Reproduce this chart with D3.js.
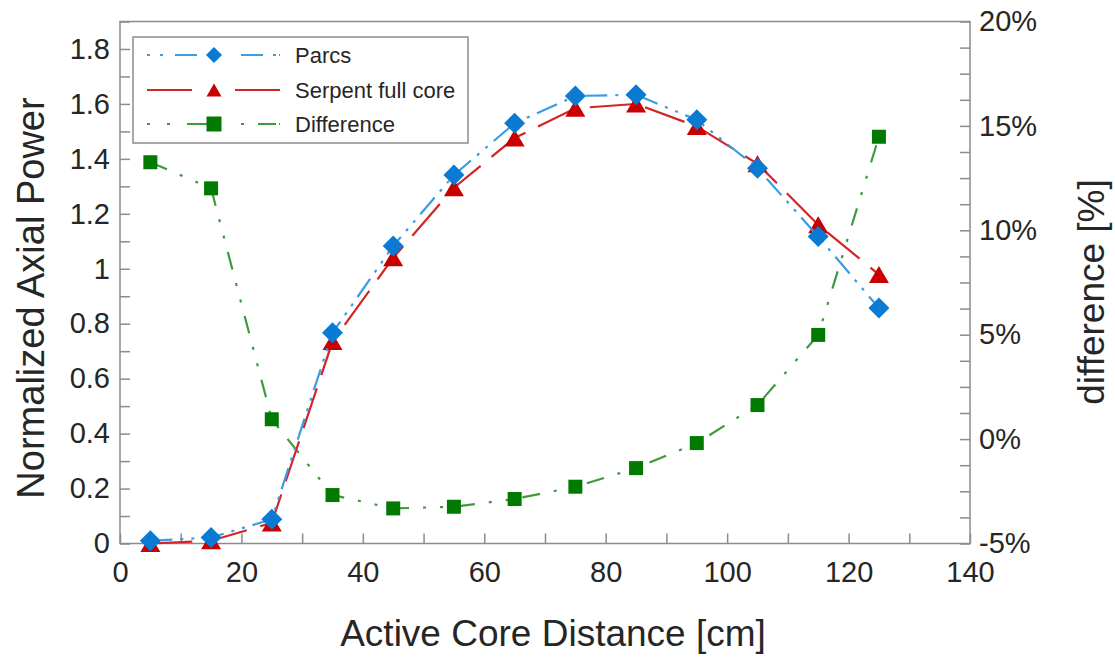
<!DOCTYPE html>
<html>
<head>
<meta charset="utf-8">
<script src="https://cdn.jsdelivr.net/npm/d3@7"></script>
<style>
  body { margin: 0; background: #fff; }
  svg { display: block; font-family: "Liberation Sans", Arial, sans-serif; }
</style>
</head>
<body>
<svg id="chart"></svg>
<script>
	// axial positions of the nodes [cm]
	var positions = [5, 15, 25, 35, 45, 55, 65, 75, 85, 95, 105, 115, 125];

	// normalized axial power
	var parcs = [0.010, 0.022, 0.088, 0.767, 1.083, 1.341, 1.530, 1.629, 1.633, 1.542, 1.366, 1.117, 0.857];
	var serpent = [0.0, 0.01, 0.075, 0.735, 1.04, 1.295, 1.476, 1.584, 1.600, 1.518, 1.382, 1.160, 0.979];

	// relative difference [%]
	var difference = [13.26, 12.01, 0.95, -2.68, -3.32, -3.24, -2.87, -2.28, -1.39, -0.19, 1.63, 4.99, 14.48];

	var seriesNames = ["Parcs", "Serpent full core", "Difference"];

	var width = 1115,
		height = 657;

	var margin = {left: 120, right: 145, top: 21.5, bottom: 113.5};

	var x = d3.scaleLinear().domain([0, 140]).range([margin.left, width - margin.right]);
	var yLeft = d3.scaleLinear().domain([0, 1.9]).range([height - margin.bottom, margin.top]);
	var yRight = d3.scaleLinear().domain([-5, 20]).range([height - margin.bottom, margin.top]);

	var frameColor = "#8c8c8c",
		textColor = "#262626";

	var svg = d3.select("#chart")
		.attr("width", width)
		.attr("height", height);

	// marker shapes, centred on their bounding box
	var diamond = function(r) { return "M0," + (-r) + "L" + r + ",0L0," + r + "L" + (-r) + ",0Z"; };
	var triangle = function(w, h) { return "M0," + (-h/2) + "L" + (w/2) + "," + (h/2) + "L" + (-w/2) + "," + (h/2) + "Z"; };
	var square = function(s) { return "M" + (-s/2) + "," + (-s/2) + "h" + s + "v" + s + "h" + (-s) + "Z"; };

	var styles = [
		{line: "#3a9de4", marker: "#0a7ad3", dash: "22,8,3,8,3,8", legendDash: "3,10,3,12,22,44,22,10,3", shape: diamond(10.5), legendShape: diamond(8)},
		{line: "#d42424", marker: "#c80000", dash: "42,14", legendDash: "45,43,45", shape: triangle(20, 17), legendShape: triangle(15, 13)},
		{line: "#3c9c3c", marker: "#007a00", dash: "18,14,3,14,3,14", legendDash: "3,17,3,17,20,34,3,14,18", shape: square(14), legendShape: square(15)}
	];

	// axes, ticks pointing inward
	var xAxis = d3.axisBottom(x)
		.tickValues(d3.range(0, 15).map(function(i) { return i * 10; }))
		.tickFormat(function(d, i) { return i % 2 === 0 ? d : ""; })
		.tickSize(-10)
		.tickPadding(18);

	var leftAxis = d3.axisLeft(yLeft)
		.tickValues(d3.range(0, 20).map(function(i) { return i / 10; }))
		.tickFormat(function(d, i) { return i % 2 === 0 ? String(+d.toFixed(1)) : ""; })
		.tickSize(-10)
		.tickPadding(10);

	var rightAxis = d3.axisRight(yRight)
		.tickValues(d3.range(0, 21).map(function(i) { return -5 + i * 1.25; }))
		.tickFormat(function(d, i) { return i % 4 === 0 ? d + "%" : ""; })
		.tickSize(-10)
		.tickPadding(9);

	var styleAxis = function(g) {
		g.select(".domain").remove();
		g.selectAll(".tick line").attr("stroke", frameColor).attr("stroke-width", 1.5);
		g.selectAll(".tick text").attr("fill", textColor).style("font-size", "29px");
	};

	svg.append("g")
		.attr("transform", "translate(0," + yLeft.range()[0] + ")")
		.call(xAxis)
		.call(styleAxis);

	svg.append("g")
		.attr("transform", "translate(" + x.range()[0] + ",0)")
		.call(leftAxis)
		.call(styleAxis);

	svg.append("g")
		.attr("transform", "translate(" + x.range()[1] + ",0)")
		.call(rightAxis)
		.call(styleAxis);

	svg.append("rect")
		.attr("x", x.range()[0])
		.attr("y", yLeft.range()[1])
		.attr("width", x.range()[1] - x.range()[0])
		.attr("height", yLeft.range()[0] - yLeft.range()[1])
		.attr("fill", "none")
		.attr("stroke", frameColor)
		.attr("stroke-width", 1.5);

	// axis titles
	svg.append("text")
		.attr("x", 553)
		.attr("y", 646)
		.attr("text-anchor", "middle")
		.attr("fill", textColor)
		.style("font-size", "37px")
		.text("Active Core Distance [cm]");

	svg.append("text")
		.attr("transform", "translate(44,298) rotate(-90)")
		.attr("text-anchor", "middle")
		.attr("fill", textColor)
		.style("font-size", "38px")
		.text("Normalized Axial Power");

	svg.append("text")
		.attr("transform", "translate(1104,292) rotate(-90)")
		.attr("text-anchor", "middle")
		.attr("fill", textColor)
		.style("font-size", "37px")
		.text("difference [%]");

	// series
	var series = [
		{values: parcs, y: yLeft, style: styles[0]},
		{values: serpent, y: yLeft, style: styles[1]},
		{values: difference, y: yRight, style: styles[2]}
	];

	var plot = svg.append("g");

	// draw difference first, parcs last (on top)
	[2, 1, 0].forEach(function(k) {
		var s = series[k];
		var pts = positions.map(function(p, i) { return [p, s.values[i]]; });
		var line = d3.line()
			.x(function(d) { return x(d[0]); })
			.y(function(d) { return s.y(d[1]); });

		plot.append("path")
			.datum(pts)
			.attr("d", line)
			.attr("fill", "none")
			.attr("stroke", s.style.line)
			.attr("stroke-width", 2.2)
			.attr("stroke-dasharray", s.style.dash);

		plot.selectAll(".marker" + k)
			.data(pts)
			.enter()
			.append("path")
			.attr("class", "marker" + k)
			.attr("d", s.style.shape)
			.attr("transform", function(d) { return "translate(" + x(d[0]) + "," + s.y(d[1]) + ")"; })
			.attr("fill", s.style.marker);
	});

	// legend
	var legend = svg.append("g");

	legend.append("rect")
		.attr("x", 133)
		.attr("y", 37)
		.attr("width", 335)
		.attr("height", 106)
		.attr("fill", "#fff")
		.attr("stroke", frameColor)
		.attr("stroke-width", 1.5);

	var rowY = [55, 90, 124];

	seriesNames.forEach(function(name, i) {
		var st = styles[i];
		legend.append("line")
			.attr("x1", 147)
			.attr("x2", 280)
			.attr("y1", rowY[i])
			.attr("y2", rowY[i])
			.attr("stroke", st.line)
			.attr("stroke-width", 2.2)
			.attr("stroke-dasharray", st.legendDash);
		legend.append("path")
			.attr("d", st.legendShape)
			.attr("transform", "translate(214," + rowY[i] + ")")
			.attr("fill", st.marker);
		legend.append("text")
			.attr("x", 295)
			.attr("y", rowY[i])
			.attr("dy", "0.35em")
			.attr("fill", textColor)
			.style("font-size", "22px")
			.text(name);
	});
</script>
</body>
</html>
